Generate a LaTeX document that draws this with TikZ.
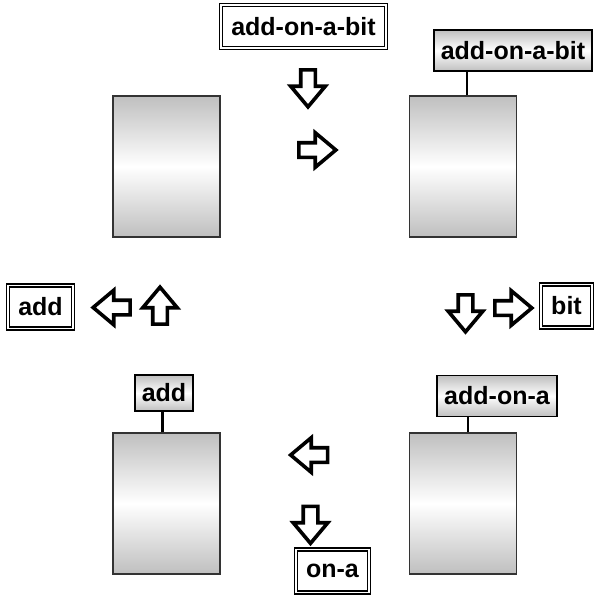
\documentclass[tikz,border=0pt]{standalone}
\usepackage{fontspec}
\setmainfont{Liberation Sans}
\usetikzlibrary{shapes.arrows}
\begin{document}
\begin{tikzpicture}[x=1pt,y=-1pt,font=\fontsize{25}{29}\selectfont\bfseries,
  panel/.style={draw=black!80,line width=1.4pt,minimum width=107pt,minimum height=141pt,
    top color=gray!50,bottom color=gray!50,middle color=white},
  tag/.style={draw,line width=1.6pt,minimum height=41pt,inner xsep=7pt,
    top color=gray!50,bottom color=gray!50,middle color=white},
  word/.style={draw,double,double distance=1.8pt,line width=1.2pt,fill=white,
    minimum height=43pt,inner xsep=10pt},
  move/.style={single arrow,draw,line width=3.6pt,fill=white,inner sep=5.5pt,
    minimum height=37pt,single arrow head extend=10pt,single arrow tip angle=80},
  stem/.style={line width=2.6pt}]
\useasboundingbox (0,0) rectangle (594,595);
% top row
\node[word] (w1) at (303.5,26.5) {add-on-a-bit};
\node[move,shape border rotate=270] (a1) at (308,84) {};
\node[move] (a2) at (313,150) {};
\node[panel] (p1) at (166.5,166.5) {};
\node[panel] (p2) at (463,166.5) {};
\node[tag] (t2) at (513,50.5) {add-on-a-bit};
\draw[stem] ([xshift=4pt]p2.north) -- ([xshift=4pt]p2.north |- t2.south);
% middle row
\node[word] (w2) at (40.5,307) {add};
\node[move,shape border rotate=180] (a3) at (116,307.5) {};
\node[move,shape border rotate=90] (a4) at (160,310) {};
\node[move,shape border rotate=270] (a5) at (465.5,309) {};
\node[move] (a6) at (509,308) {};
\node[word] (w3) at (566.5,306) {bit};
% bottom row
\node[panel] (p3) at (166.5,503.5) {};
\node[panel] (p4) at (463,503.5) {};
\node[tag,minimum height=36pt] (t3) at (164,393) {add};
\node[tag] (t4) at (497,396) {add-on-a};
\draw[stem] ([xshift=-4pt]p3.north) -- ([xshift=-4pt]p3.north |- t3.south);
\draw[stem] ([xshift=5pt]p4.north) -- ([xshift=5pt]p4.north |- t4.south);
\node[move,shape border rotate=180] (a7) at (313.5,455) {};
\node[move,shape border rotate=270] (a8) at (310.5,520.5) {};
\node[word] (w4) at (332.5,571) {on-a};
\end{tikzpicture}
\end{document}
